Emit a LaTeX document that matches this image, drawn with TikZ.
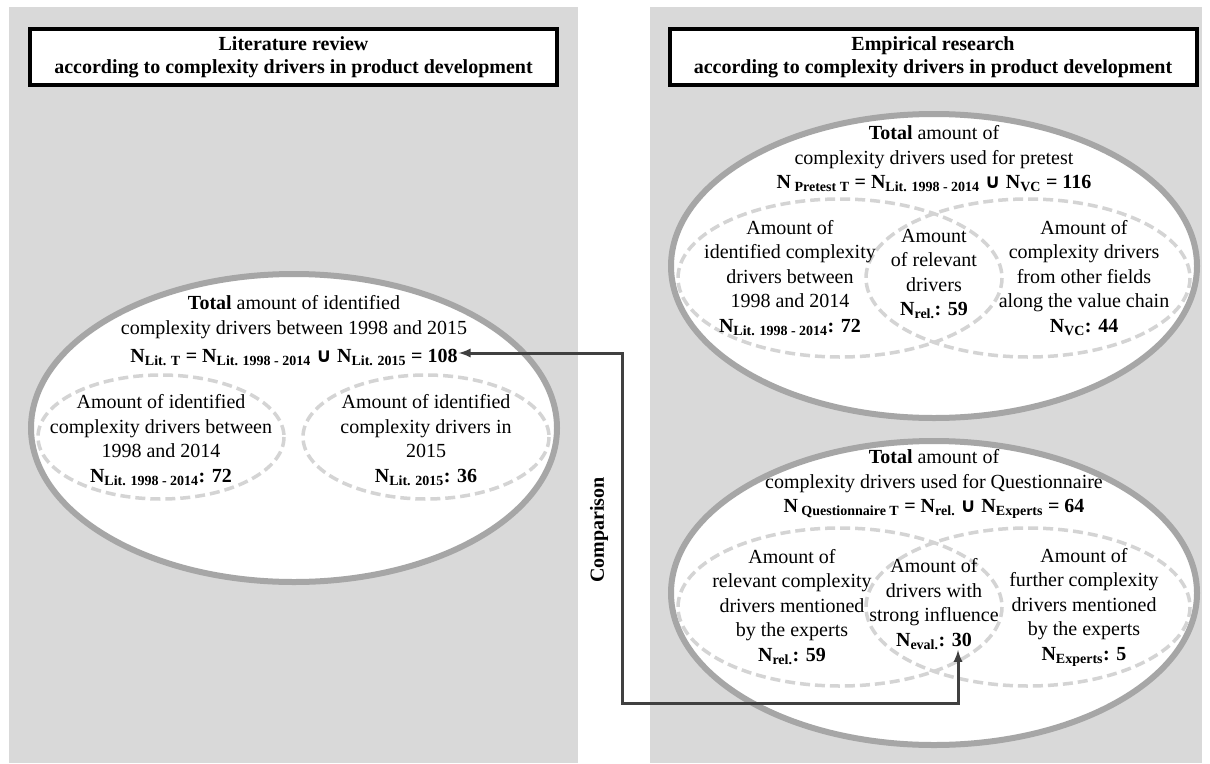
\documentclass[tikz,border=0pt]{standalone}
\usepackage{fontspec}
\setmainfont{Liberation Serif}
\newfontfamily\cupfont{DejaVu Sans}
\usepackage{amsmath}
\usepackage{tikz}
\usetikzlibrary{arrows}
\usetikzlibrary{positioning}

\definecolor{panelgray}{HTML}{D9D9D9}
\definecolor{ellgray}{HTML}{A6A6A6}
\definecolor{venngray}{HTML}{D4D4D4}
\definecolor{arrowgray}{HTML}{404040}

\newcommand{\Nsb}[1]{N\textsubscript{#1}}
\newcommand{\unionsym}{{\cupfont\bfseries ∪}}

\begin{document}
\begin{tikzpicture}[x=1pt, y=-1pt,
  panel/.style={fill=panelgray, draw=none},
  titlebox/.style={rectangle, draw=black, line width=4pt, fill=white, minimum width=527pt, minimum height=56pt, align=center, font=\bfseries\fontsize{20}{23}\selectfont},
  bigell/.style={draw=ellgray, line width=6pt, fill=white},
  venn/.style={draw=venngray, line width=3.5pt, dash pattern=on 10pt off 5pt},
  txt/.style={align=center, inner sep=1pt, font=\fontsize{20}{24.5}\selectfont},
  cmp/.style={latex-latex, draw=arrowgray, line width=3pt}]
\useasboundingbox (0,0) rectangle (1210,763);
\fill [panel] (9,7) rectangle (578,763);
\fill [panel] (650,7) rectangle (1202,763);

\node [titlebox] (littitle) at (293.5,57) {Literature review\\according to complexity drivers in product development};
\node [titlebox] (emptitle) at (933,57) {Empirical research\\according to complexity drivers in product development};

% literature review
\draw [bigell] (294,428) ellipse [x radius=263, y radius=154];
\draw [venn] (161,437) ellipse [x radius=123, y radius=62];
\draw [venn] (426,437) ellipse [x radius=123, y radius=62];
\node [txt] (lithead) at (294,317) {\textbf{Total} amount of identified\\complexity drivers between 1998 and 2015};
\node [txt] (littot) at (294,357) {\textbf{\Nsb{Lit. T} = \Nsb{Lit. 1998 - 2014} \unionsym{} \Nsb{Lit. 2015} = 108}};
\node [txt] (litold) at (161,440) {Amount of identified\\complexity drivers between\\1998 and 2014\\\textbf{\Nsb{Lit. 1998 - 2014}: 72}};
\node [txt] (litnew) at (426,440) {Amount of identified\\complexity drivers in\\2015\\\textbf{\Nsb{Lit. 2015}: 36}};

% pretest
\draw [bigell] (934,266) ellipse [x radius=263, y radius=152];
\draw [venn] (840,278) ellipse [x radius=162, y radius=79];
\draw [venn] (1028,278) ellipse [x radius=162, y radius=79];
\node [txt] (prehead) at (934,159) {\textbf{Total} amount of\\complexity drivers used for pretest\\\textbf{N\textsubscript{ Pretest T} = \Nsb{Lit. 1998 - 2014} \unionsym{} \Nsb{VC} = 116}};
\node [txt] (prelit) at (790,278) {Amount of\\identified complexity\\drivers between\\1998 and 2014\\\textbf{\Nsb{Lit. 1998 - 2014}: 72}};
\node [txt] (prerel) at (934,274) {Amount\\of relevant\\drivers\\\textbf{\Nsb{rel.}: 59}};
\node [txt] (prevc) at (1084,278) {Amount of\\complexity drivers\\from other fields\\along the value chain\\\textbf{\Nsb{VC}: 44}};

% questionnaire
\draw [bigell] (934,593) ellipse [x radius=263, y radius=152];
\draw [venn] (840,607) ellipse [x radius=162, y radius=79];
\draw [venn] (1028,607) ellipse [x radius=162, y radius=79];
\node [txt] (qhead) at (934,484) {\textbf{Total} amount of\\complexity drivers used for Questionnaire\\\textbf{N\textsubscript{ Questionnaire T} = \Nsb{rel.} \unionsym{} \Nsb{Experts} = 64}};
\node [txt] (qrel) at (792,607) {Amount of\\relevant complexity\\drivers mentioned\\by the experts\\\textbf{\Nsb{rel.}: 59}};
\node [txt] (qeval) at (934,604) {Amount of\\drivers with\\strong influence\\\textbf{\Nsb{eval.}: 30}};
\node [txt] (qexp) at (1084,607) {Amount of\\further complexity\\drivers mentioned\\by the experts\\\textbf{\Nsb{Experts}: 5}};

% comparison
\node [rotate=90, font=\bfseries\fontsize{20}{24}\selectfont] (cmplabel) at (599,530) {Comparison};
\coordinate (cmptop) at (622,353);
\coordinate (cmpbot) at (622,703);
\coordinate (evaltip) at (958,650);
\draw [cmp] (cmptop -| littot.east) -- (cmptop) -- (cmpbot) -| (evaltip);
\end{tikzpicture}
\end{document}
